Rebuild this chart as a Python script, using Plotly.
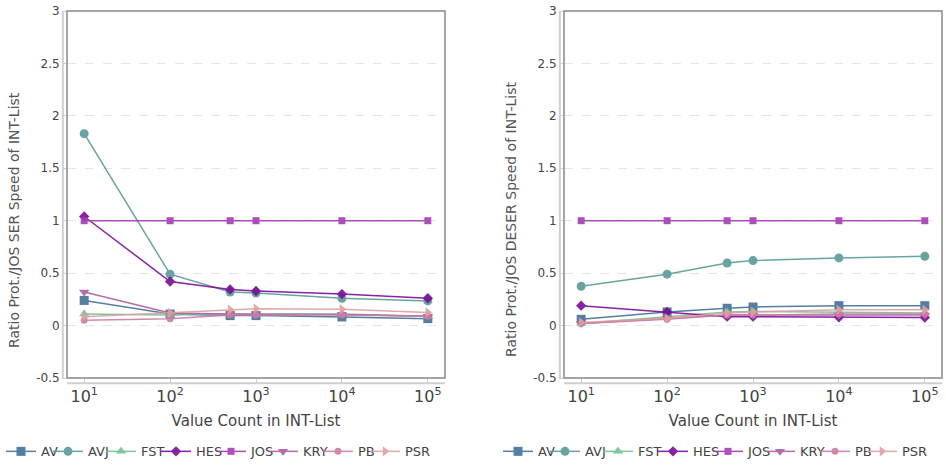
import plotly.graph_objects as go

counts = [10, 100, 500, 1000, 10000, 100000]
series = ["AV", "AVJ", "FST", "HES", "JOS", "KRY", "PB", "PSR"]

ser = {
    "AV":  [0.24, 0.11, 0.095, 0.095, 0.082, 0.066],
    "AVJ": [1.83, 0.49, 0.32, 0.31, 0.26, 0.235],
    "FST": [0.11, 0.10, 0.11, 0.11, 0.11, 0.09],
    "HES": [1.04, 0.42, 0.345, 0.33, 0.30, 0.26],
    "JOS": [1.0, 1.0, 1.0, 1.0, 1.0, 1.0],
    "KRY": [0.32, 0.12, 0.11, 0.11, 0.105, 0.09],
    "PB":  [0.05, 0.066, 0.10, 0.10, 0.10, 0.09],
    "PSR": [0.085, 0.12, 0.15, 0.16, 0.155, 0.125],
}
deser = {
    "AV":  [0.06, 0.13, 0.165, 0.177, 0.19, 0.19],
    "AVJ": [0.375, 0.49, 0.597, 0.62, 0.645, 0.66],
    "FST": [0.02, 0.085, 0.13, 0.135, 0.13, 0.12],
    "HES": [0.19, 0.13, 0.085, 0.085, 0.08, 0.077],
    "JOS": [1.0, 1.0, 1.0, 1.0, 1.0, 1.0],
    "KRY": [0.02, 0.07, 0.10, 0.10, 0.10, 0.10],
    "PB":  [0.02, 0.06, 0.10, 0.10, 0.11, 0.11],
    "PSR": [0.03, 0.07, 0.12, 0.13, 0.15, 0.15],
}

colors = {
    "AV": "#44719a", "AVJ": "#5a9b98", "FST": "#74c098", "HES": "#7a0c9a",
    "JOS": "#a33cb2", "KRY": "#ad5ea0", "PB": "#cc7ca8", "PSR": "#dea0a0",
}
symbols = {
    "AV": "square", "AVJ": "circle", "FST": "triangle-up", "HES": "diamond",
    "JOS": "square", "KRY": "triangle-down", "PB": "circle", "PSR": "triangle-right",
}
sizes = {"AV": 9, "AVJ": 9, "FST": 9, "HES": 8, "JOS": 7, "KRY": 9, "PB": 7, "PSR": 9}

y_titles = ["Ratio Prot./JOS SER Speed of INT-List", "Ratio Prot./JOS DESER Speed of INT-List"]
x_title = "Value Count in INT-List"

# legend label start positions (px) in the reference, for the left panel
legend_text_px = [39, 86, 139, 194, 249, 301, 356, 403]
right_panel_shift_px = 497

xtickvals = [10, 100, 1000, 10000, 100000]
xticktext = ["10<sup>1</sup>", "10<sup>2</sup>", "10<sup>3</sup>", "10<sup>4</sup>", "10<sup>5</sup>"]
ytickvals = [-0.5, 0, 0.5, 1, 1.5, 2, 2.5, 3]
yticktext = ["-0.5", "0", "0.5", "1", "1.5", "2", "2.5", "3"]

W, H = 946, 465
ML, MR, MT, MB = 67, 4, 11, 87
PW = W - ML - MR
PH = H - MT - MB

font = "DejaVu Sans"
fig = go.Figure()
legend_layout = {}
k = 0
for panel, (data, xa, ya) in enumerate([(ser, "x", "y"), (deser, "x2", "y2")]):
    for i, s in enumerate(series):
        k += 1
        lname = "legend" if k == 1 else f"legend{k}"
        fig.add_trace(go.Scatter(
            x=counts, y=data[s], name=s, mode="lines+markers",
            xaxis=xa, yaxis=ya, legend=lname, showlegend=True,
            line=dict(color=colors[s], width=1.5),
            marker=dict(symbol=symbols[s], size=sizes[s], color=colors[s]),
            opacity=0.9,
        ))
        tx = legend_text_px[i] + panel * right_panel_shift_px
        legend_layout[lname] = dict(
            visible=True,
            orientation="h", x=(tx - 38 - ML) / PW, xanchor="left",
            y=-0.2, yanchor="middle", itemwidth=30,
            font=dict(size=13, color="#444444", family=font),
            bgcolor="rgba(0,0,0,0)", borderwidth=0,
        )

axis_x = dict(
    type="log", range=[0.8, 5.2], tickvals=xtickvals, ticktext=xticktext,
    showgrid=False, zeroline=False, showline=False, automargin=False,
    ticks="outside", ticklen=4, tickcolor="#cccccc",
    tickfont=dict(size=16, color="#444444", family=font),
    title=dict(text=x_title, font=dict(size=15, color="#444444", family=font), standoff=10),
)
axis_y = dict(
    range=[-0.5, 3], tickvals=ytickvals, ticktext=yticktext,
    showgrid=True, gridcolor="#e6e6e6", griddash="dash", gridwidth=1,
    zeroline=False, showline=False, automargin=False,
    ticks="outside", ticklen=4, tickcolor="#cccccc",
    tickfont=dict(size=12, color="#444444", family=font),
)

fig.update_layout(
    width=W, height=H,
    margin=dict(l=ML, r=MR, t=MT, b=MB, autoexpand=False),
    paper_bgcolor="white", plot_bgcolor="white",
    showlegend=True,
    font=dict(family=font, color="#444444"),
    xaxis=dict(axis_x, domain=[0, 0.432], anchor="y"),
    xaxis2=dict(axis_x, domain=[0.568, 1], anchor="y2"),
    yaxis=dict(axis_y, anchor="x"),
    yaxis2=dict(axis_y, anchor="x2"),
    **legend_layout,
)

# y-axis titles placed like the reference (slightly below the axis centre)
for cx, txt in zip([14, 511], y_titles):
    fig.add_annotation(
        text=txt, textangle=-90, showarrow=False,
        xref="paper", yref="paper",
        x=(cx - ML) / PW, y=(MT + PH - 220) / PH,
        xanchor="center", yanchor="middle",
        font=dict(size=14, color="#555555", family=font),
    )

shapes = []
for xr, yr in [("x domain", "y domain"), ("x2 domain", "y2 domain")]:
    shapes.append(dict(type="rect", xref=xr, yref=yr, x0=0, x1=1, y0=0, y1=1,
                       line=dict(color="#888888", width=1.5), layer="above"))
    shapes.append(dict(type="line", xref=xr, yref=yr, x0=-0.011, x1=-0.011, y0=0, y1=1,
                       line=dict(color="#d0d0d0", width=2)))
    shapes.append(dict(type="line", xref=xr, yref=yr, x0=0, x1=1, y0=-0.014, y1=-0.014,
                       line=dict(color="#d0d0d0", width=2)))
fig.update_layout(shapes=shapes)

fig.write_html("out.html", config={"displayModeBar": False},
               post_script="document.body.style.margin='0px';")
